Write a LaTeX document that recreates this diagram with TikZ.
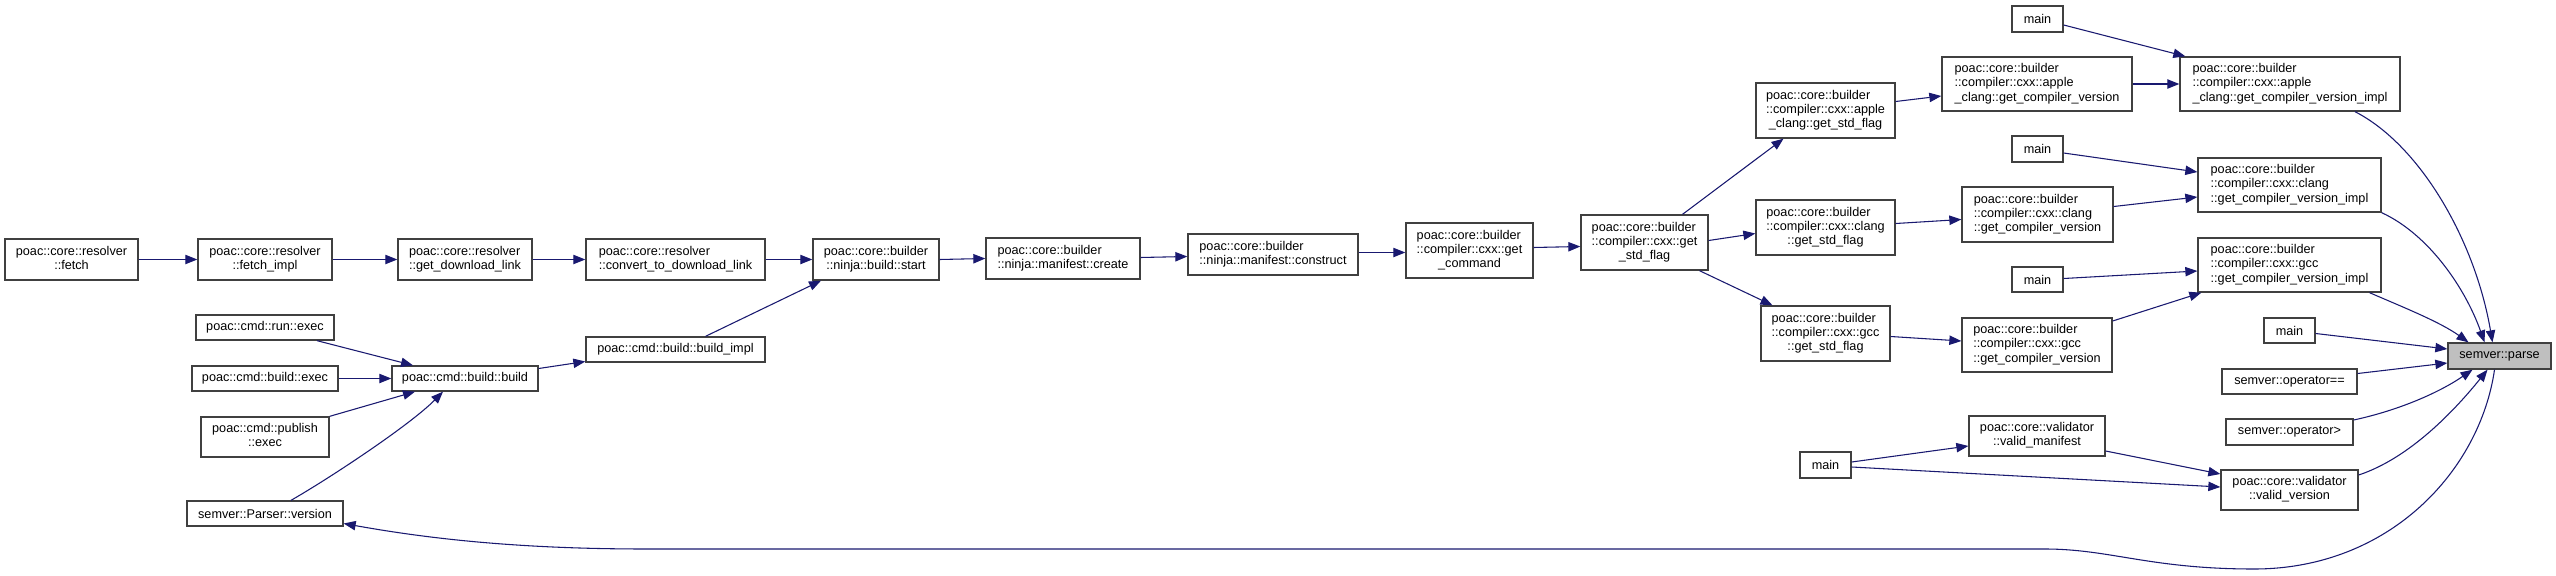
\documentclass[tikz,border=0pt]{standalone}
\usepackage{fontspec}
\setmainfont{Liberation Sans}
\usetikzlibrary{arrows.meta,calc}
\definecolor{edgec}{HTML}{191970}
\definecolor{boxc}{HTML}{404040}
\definecolor{hlfill}{HTML}{BFBFBF}
\newcommand\flbl[2]{\begin{tabular}{@{}l@{}}#1\\\multicolumn{1}{@{}c@{}}{#2}\end{tabular}}
\newcommand\fnode[7][]{\node[fn,#1,minimum width={(#4-#2)*0.75pt},minimum height={(#5-#3)*0.75pt}] (#6) at ({(#2+#4)/2},{(#3+#5)/2}) {#7};}
\tikzset{
  fn/.style={draw=boxc, line width=1pt, fill=white, inner sep=0pt, text=black,
    font=\fontsize{9.5}{10.7}\selectfont},
  hl/.style={fill=hlfill},
  edge/.style={draw=edgec, line width=0.8pt, -{Triangle[length=9pt,width=7pt]}},
}
\begin{document}
\begin{tikzpicture}[x=0.75pt,y=-0.75pt]
\useasboundingbox[fill=white] (0,0) rectangle (2556,575);
% nodes: x1 y1 x2 y2 name text
\fnode{5}{239}{138}{280}{fetch}{\flbl{poac::core::resolver}{::fetch}}
\fnode{198}{239}{332}{280}{fetchimpl}{\flbl{poac::core::resolver}{::fetch\_impl}}
\fnode{398}{239}{532}{280}{getdl}{\flbl{poac::core::resolver}{::get\_download\_link}}
\fnode{586}{239}{765}{280}{convert}{\flbl{poac::core::resolver}{::convert\_to\_download\_link}}
\fnode{813}{239}{939}{280}{start}{\flbl{poac::core::builder}{::ninja::build::start}}
\fnode{986}{238}{1140}{279}{create}{\flbl{poac::core::builder}{::ninja::manifest::create}}
\fnode{1188}{234}{1358}{275}{construct}{\flbl{poac::core::builder}{::ninja::manifest::construct}}
\fnode{1406}{223}{1533}{278}{getcmd}{\flbl{poac::core::builder\\::compiler::cxx::get}{\_command}}
\fnode{1581}{215}{1708}{270}{stdflag}{\flbl{poac::core::builder\\::compiler::cxx::get}{\_std\_flag}}
\fnode{1756}{83}{1895}{138}{applestd}{\flbl{poac::core::builder\\::compiler::cxx::apple}{\_clang::get\_std\_flag}}
\fnode{1756}{200}{1895}{255}{clangstd}{\flbl{poac::core::builder\\::compiler::cxx::clang}{::get\_std\_flag}}
\fnode{1761}{306}{1890}{361}{gccstd}{\flbl{poac::core::builder\\::compiler::cxx::gcc}{::get\_std\_flag}}
\fnode{1942}{57}{2132}{111}{applever}{\flbl{poac::core::builder\\::compiler::cxx::apple}{\_clang::get\_compiler\_version}}
\fnode{1962}{187}{2113}{242}{clangver}{\flbl{poac::core::builder\\::compiler::cxx::clang}{::get\_compiler\_version}}
\fnode{1962}{318}{2112}{372}{gccver}{\flbl{poac::core::builder\\::compiler::cxx::gcc}{::get\_compiler\_version}}
\fnode{2012}{6}{2063}{32}{mainA}{main}
\fnode{2012}{136}{2063}{162}{mainB}{main}
\fnode{2012}{267}{2063}{292}{mainC}{main}
\fnode{2180}{57}{2400}{111}{appleimpl}{\flbl{poac::core::builder\\::compiler::cxx::apple}{\_clang::get\_compiler\_version\_impl}}
\fnode{2198}{158}{2381}{212}{clangimpl}{\flbl{poac::core::builder\\::compiler::cxx::clang}{::get\_compiler\_version\_impl}}
\fnode{2198}{238}{2381}{292}{gccimpl}{\flbl{poac::core::builder\\::compiler::cxx::gcc}{::get\_compiler\_version\_impl}}
\fnode{2264}{318}{2315}{343}{mainD}{main}
\fnode[hl]{2448}{343}{2551}{369}{parse}{semver::parse}
\fnode{2222}{369}{2357}{394}{opeq}{semver::operator==}
\fnode{2226}{419}{2353}{445}{opgt}{semver::operator>}
\fnode{1969}{416}{2105}{456}{validman}{\flbl{poac::core::validator}{::valid\_manifest}}
\fnode{2221}{470}{2358}{510}{validver}{\flbl{poac::core::validator}{::valid\_version}}
\fnode{1800}{452}{1851}{478}{mainE}{main}
\fnode{196}{315}{334}{340}{runexec}{poac::cmd::run::exec}
\fnode{192}{366}{338}{391}{buildexec}{poac::cmd::build::exec}
\fnode{392}{366}{538}{391}{build}{poac::cmd::build::build}
\fnode{201}{417}{329}{457}{publish}{\flbl{poac::cmd::publish}{::exec}}
\fnode{187}{501}{343}{526}{parserver}{semver::Parser::version}
\fnode{586}{337}{765}{362}{buildimpl}{poac::cmd::build::build\_impl}
% edges
\draw[edge] (fetch.east) -- (fetchimpl.west);
\draw[edge] (fetchimpl.east) -- (getdl.west);
\draw[edge] (getdl.east) -- (convert.west);
\draw[edge] (convert.east) -- (start.west);
\draw[edge] (start.east) -- (create.west);
\draw[edge] ($(create.east)+(0,-1)$) -- ($(construct.west)+(0,2)$);
\draw[edge] ($(construct.east)+(0,-2)$) -- ($(getcmd.west)+(0,2)$);
\draw[edge] ($(getcmd.east)+(0,-3)$) -- ($(stdflag.west)+(0,4)$);
\draw[edge] ($(stdflag.north)+(38,0)$) -- ($(applestd.south)+(-42,0)$);
\draw[edge] ($(stdflag.east)+(0,-2)$) -- ($(clangstd.west)+(0,6)$);
\draw[edge] ($(stdflag.south)+(55,0)$) -- ($(gccstd.north)+(-53,0)$);
\draw[edge] ($(applestd.east)+(0,-9)$) -- ($(applever.west)+(0,12)$);
\draw[edge] ($(clangstd.east)+(0,-4)$) -- ($(clangver.west)+(0,5)$);
\draw[edge] ($(gccstd.east)+(0,3)$) -- ($(gccver.west)+(0,-4)$);
\draw[edge] ($(mainA.east)+(0,6)$) -- ($(appleimpl.north west)+(6,0)$);
\draw[edge] (applever.east) -- (appleimpl.west);
\draw[edge] ($(mainB.east)+(0,4)$) -- ($(clangimpl.west)+(0,-13)$);
\draw[edge] ($(clangver.east)+(0,-8)$) -- ($(clangimpl.west)+(0,12)$);
\draw[edge] ($(mainC.east)+(0,-1)$) -- ($(gccimpl.west)+(0,6)$);
\draw[edge] ($(gccver.east)+(0,-24)$) -- ($(gccimpl.south west)+(4,0)$);
\draw[edge] ($(appleimpl.south)+(65,0)$) .. controls (2420,145) and (2475,240) .. ($(parse.north)+(-7,0)$);
\draw[edge] (clangimpl.south east) .. controls (2430,235) and (2466,290) .. ($(parse.north)+(-15,0)$);
\draw[edge] ($(gccimpl.south)+(80,0)$) .. controls (2405,308) and (2440,322) .. ($(parse.north)+(-31,0)$);
\draw[edge] ($(mainD.east)+(0,3)$) -- ($(parse.west)+(0,-7)$);
\draw[edge] ($(opeq.east)+(0,-8)$) -- ($(parse.west)+(0,7)$);
\draw[edge] ($(opgt.east)+(0,-12)$) .. controls (2400,410) and (2440,392) .. ($(parse.south)+(-27,0)$);
\draw[edge] ($(validver.east)+(0,-15)$) .. controls (2410,458) and (2455,410) .. ($(parse.south)+(-12,0)$);
\draw[edge] ($(parse.south)+(-5,0)$) .. controls (2480,470) and (2390,569) .. (2254,569)
  .. controls (2150,569) and (2110,549) .. (2045,549) -- (647,549)
  .. controls (520,549) and (430,539) .. ($(parserver.east)+(0,10)$);
\draw[edge] ($(mainE.east)+(0,-3)$) -- ($(validman.west)+(0,10)$);
\draw[edge] ($(mainE.east)+(0,2)$) -- ($(validver.west)+(0,-3)$);
\draw[edge] ($(validman.east)+(0,15)$) -- ($(validver.west)+(0,-16)$);
\draw[edge] ($(runexec.south)+(52,0)$) -- ($(build.north)+(-52,0)$);
\draw[edge] (buildexec.east) -- (build.west);
\draw[edge] (publish.north east) -- ($(build.south)+(-50,0)$);
\draw[edge] ($(parserver.north)+(26,0)$) .. controls (330,478) and (410,425) .. ($(build.south)+(-22,0)$);
\draw[edge] ($(build.east)+(0,-10)$) -- ($(buildimpl.west)+(0,12)$);
\draw[edge] ($(buildimpl.north)+(30,0)$) -- ($(start.south)+(-55,0)$);
\end{tikzpicture}
\end{document}
